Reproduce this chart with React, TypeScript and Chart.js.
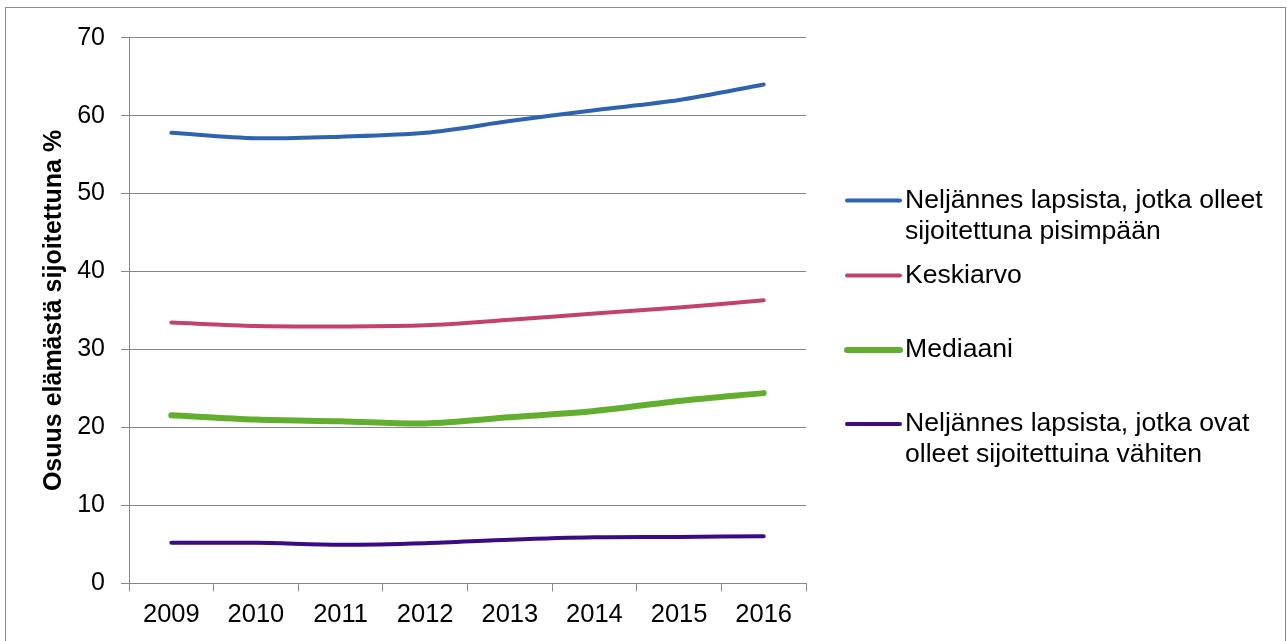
import React, { useEffect, useRef } from "react";
import { Chart, registerables } from "chart.js";

Chart.register(...registerables);

const YEARS = ["2009", "2010", "2011", "2012", "2013", "2014", "2015", "2016"];
const LONGEST = [57.8, 57.1, 57.3, 57.8, 59.3, 60.7, 62.0, 64.0];
const MEAN = [33.45, 33.0, 32.95, 33.1, 33.8, 34.6, 35.4, 36.3];
const MEDIAN = [21.55, 21.0, 20.8, 20.5, 21.3, 22.1, 23.4, 24.4];
const SHORTEST = [5.2, 5.2, 4.95, 5.15, 5.6, 5.9, 5.95, 6.05];

const LABEL_LONGEST = ["Neljännes lapsista, jotka olleet", "sijoitettuna pisimpään"];
const LABEL_MEAN = ["Keskiarvo"];
const LABEL_MEDIAN = ["Mediaani"];
const LABEL_SHORTEST = ["Neljännes lapsista, jotka ovat", "olleet sijoitettuina vähiten"];

const Y_TITLE = "Osuus elämästä sijoitettuna %";

const FONT = "'Liberation Sans', Arial, sans-serif";
const GRID = "#868686";

const LEGEND_Y = [200.5, 275.5, 350, 424];

const legendPlugin = {
  id: "customLegend",
  afterDraw(chart: any) {
    const ctx = chart.ctx as CanvasRenderingContext2D;
    ctx.save();
    chart.data.datasets.forEach((ds: any, i: number) => {
      const y = LEGEND_Y[i];
      ctx.strokeStyle = ds.borderColor;
      ctx.lineWidth = ds.borderWidth;
      ctx.lineCap = "round";
      ctx.beginPath();
      ctx.moveTo(847, y);
      ctx.lineTo(900, y);
      ctx.stroke();
      ctx.fillStyle = "#000";
      ctx.font = `26.6px ${FONT}`;
      ctx.textAlign = "left";
      ctx.textBaseline = "middle";
      const lines: string[] = ds.legendLines;
      lines.forEach((t, j) => ctx.fillText(t, 905, y + j * 31));
    });
    ctx.restore();
  },
  beforeDraw(chart: any) {
    const ctx = chart.ctx as CanvasRenderingContext2D;
    ctx.save();
    ctx.fillStyle = "#fff";
    ctx.fillRect(0, 0, chart.width, chart.height);
    ctx.strokeStyle = "#8c8c8c";
    ctx.lineWidth = 1;
    ctx.strokeRect(5.5, 7.5, 1280, 700);
    ctx.restore();
  },
};

export default function App() {
  const ref = useRef<HTMLCanvasElement>(null);
  useEffect(() => {
    if (!ref.current) return;
    const mk = (label: string[], data: number[], color: string, width: number) => ({
      label: label.join(" "),
      legendLines: label,
      data,
      borderColor: color,
      backgroundColor: color,
      borderWidth: width,
      borderCapStyle: "round",
      borderJoinStyle: "round",
      pointRadius: 0,
      pointHoverRadius: 0,
      tension: 0.3,
      fill: false,
    });
    const chart = new Chart(ref.current, {
      type: "line",
      data: {
        labels: YEARS,
        datasets: [
          mk(LABEL_LONGEST, LONGEST, "#2E63B1", 4),
          mk(LABEL_MEAN, MEAN, "#C2416F", 4),
          mk(LABEL_MEDIAN, MEDIAN, "#62AE2E", 6),
          mk(LABEL_SHORTEST, SHORTEST, "#3A0B82", 4),
        ] as any,
      },
      options: {
        responsive: false,
        animation: false,
        layout: { padding: { top: 37.7, right: 481, bottom: 0, left: 0 } },
        plugins: {
          legend: { display: false },
          tooltip: { enabled: false },
        },
        scales: {
          x: {
            offset: true,
            grid: {
              offset: true,
              drawOnChartArea: false,
              drawTicks: true,
              tickLength: 8,
              color: GRID,
              lineWidth: 1,
            },
            border: { display: true, color: GRID, width: 1 },
            ticks: {
              color: "#000",
              font: { family: FONT, size: 25.5 },
              padding: 8,
              maxRotation: 0,
            },
            afterFit: (s: any) => {
              s.height = 57.7;
            },
          },
          y: {
            min: 0,
            max: 70,
            ticks: {
              stepSize: 10,
              color: "#000",
              font: { family: FONT, size: 25 },
              padding: 16,
            },
            grid: { color: GRID, lineWidth: 1, tickLength: 8, drawTicks: true },
            border: { display: true, color: GRID, width: 1 },
            title: {
              display: true,
              text: Y_TITLE,
              color: "#000",
              font: { family: FONT, size: 25, weight: "bold" },
              padding: { top: 39, bottom: 0 },
            },
            afterFit: (s: any) => {
              s.width = 129;
            },
          },
        },
      },
      plugins: [legendPlugin],
    });
    return () => chart.destroy();
  }, []);
  return (
    <div style={{ position: "fixed", left: 0, top: 0, width: 1287, height: 641, background: "#fff" }}>
      <canvas ref={ref} width={1287} height={641} style={{ display: "block" }} />
    </div>
  );
}
